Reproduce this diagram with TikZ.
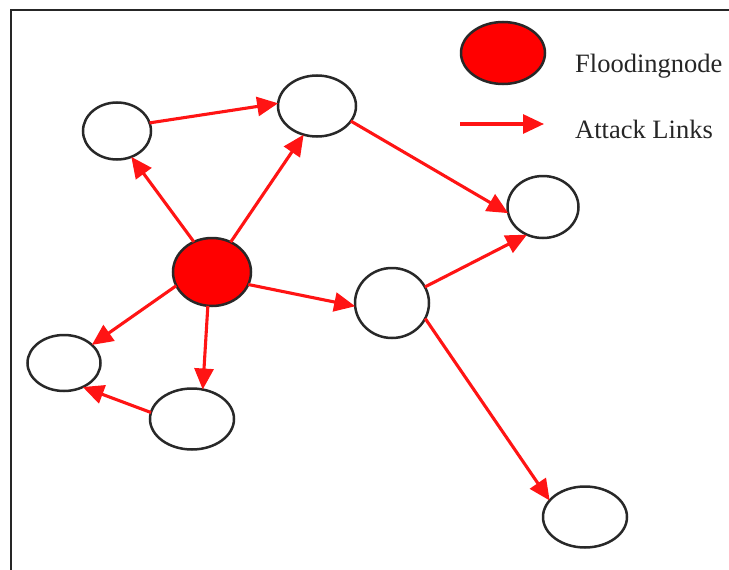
\documentclass[tikz,border=0pt]{standalone}
\usepackage{fontspec}
\setmainfont{Liberation Serif}
\usetikzlibrary{shapes.geometric,arrows.meta}
\definecolor{edgered}{RGB}{255,20,20}
\definecolor{rimgray}{RGB}{40,40,40}
\tikzset{
  host/.style={ellipse, draw=rimgray, line width=2.5pt, fill=white, inner sep=0pt, outer sep=0pt},
  flood/.style={host, fill=red},
  attack/.style={draw=edgered, line width=3.1pt, -{Triangle[length=21pt,width=19pt]}},
  legtext/.style={anchor=west, font=\fontsize{26.5}{30}\selectfont, text=black!85, inner sep=0pt},
  frame/.style={draw=black!85, line width=2pt}
}
\begin{document}
\begin{tikzpicture}[x=1pt,y=-1pt]
\useasboundingbox (0,0) rectangle (729,570);
\draw[frame] (11,571) -- (11,10) -- (730,10);
% nodes
\node[host, minimum width=68pt, minimum height=57pt] (A) at (117,131) {};
\node[host, minimum width=78pt, minimum height=61pt] (B) at (317,106) {};
\node[flood, minimum width=78pt, minimum height=68pt] (R) at (212,272) {};
\node[host, minimum width=71pt, minimum height=62pt] (C) at (543,207) {};
\node[host, minimum width=74pt, minimum height=70pt] (D) at (392,303) {};
\node[host, minimum width=73pt, minimum height=56pt] (E) at (64,363) {};
\node[host, minimum width=84pt, minimum height=61pt] (F) at (192,419) {};
\node[host, minimum width=84pt, minimum height=61pt] (G) at (585,517) {};
% legend
\node[flood, minimum width=84pt, minimum height=62pt] (L) at (503,53) {};
\node[legtext] (Lt) at (575,66) {Floodingnode};
\coordinate (La) at (460,124);
\coordinate (Lb) at (544,124);
\node[legtext] (Lt2) at (575,129) {Attack Links};
\draw[attack] (La) -- (Lb);
% edges
\draw[attack] (R.121) -- (A.-61);
\draw[attack] (R.58) -- (B.245);
\draw[attack] (A.14) -- (B.176);
\draw[attack] (B.-24) -- (C.190);
\draw[attack] (R.-19) -- (D.185);
\draw[attack] (D.26) -- (C.240);
\draw[attack] (D.-25) -- (G.155);
\draw[attack] (R.201) -- (E.33);
\draw[attack] (R.263) -- (F.70);
\draw[attack] (F.171) -- (E.-52);
\end{tikzpicture}
\end{document}
